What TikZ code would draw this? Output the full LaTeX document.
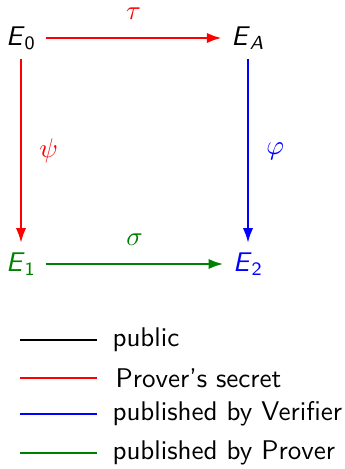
\documentclass[tikz,border=0pt]{standalone}
\usepackage{amsmath,amssymb}
\usepackage{tikz}
\usetikzlibrary{arrows.meta}
\definecolor{dkgreen}{rgb}{0,0.5,0}
\newcommand{\Ecurve}[1]{$\textsf{\textsl{E}}_{#1}$}

\begin{document}
\begin{tikzpicture}[x=0.37pt,y=-0.37pt,font=\sffamily,
  map/.style={line width=0.95pt,-{Latex[length=5.5pt,width=3.8pt]}},
  key/.style={line width=0.95pt}]
  \useasboundingbox (0,0) rectangle (345,469);
  \node (e0) at (21,38) {\Ecurve{\textsf{0}}};
  \node (ea) at (248,38) {\Ecurve{\textsf{\textsl{A}}}};
  \node[dkgreen] (e1) at (21,264) {\Ecurve{\textsf{1}}};
  \node[blue] (e2) at (248,264) {\Ecurve{\textsf{2}}};
  \draw[map,red] (e0) -- node[above=3pt]{$\tau$} (ea);
  \draw[map,red] (e0) -- node[right=3pt]{$\psi$} (e1);
  \draw[map,blue] (ea) -- node[right=3pt]{$\varphi$} (e2);
  \draw[map,dkgreen] (e1) -- node[above=3pt]{$\sigma$} (e2);
  % legend
  \coordinate (k1) at (20,340);
  \coordinate (k2) at (20,378);
  \coordinate (k3) at (20,414);
  \coordinate (k4) at (20,453);
  \node[right] (t1) at (103,340) {public};
  \node[right] (t2) at (106,378) {Prover's secret};
  \node[right] (t3) at (103,414) {published by Verifier};
  \node[right] (t4) at (103,453) {published by Prover};
  \draw[key,black] (k1) -- ++(77,0);
  \draw[key,red] (k2) -- ++(77,0);
  \draw[key,blue] (k3) -- ++(77,0);
  \draw[key,dkgreen] (k4) -- ++(77,0);
\end{tikzpicture}
\end{document}
